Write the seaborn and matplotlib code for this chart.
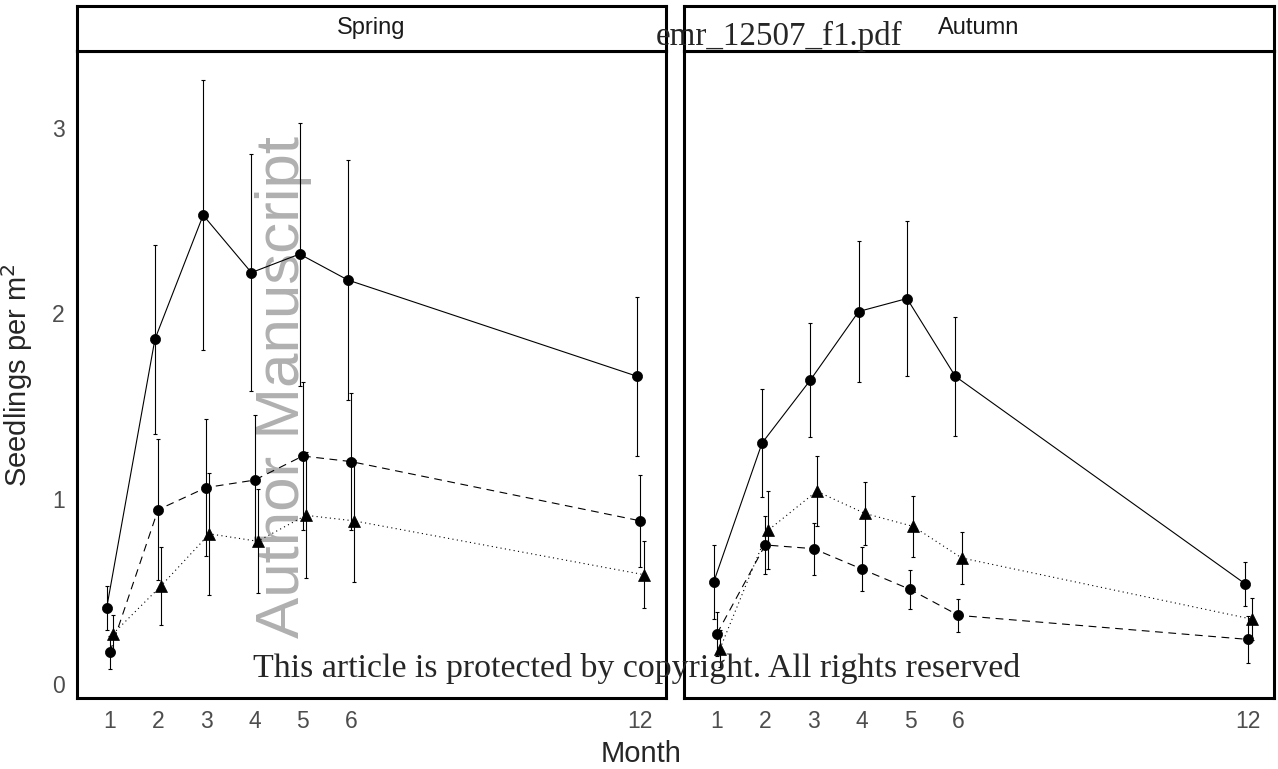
import matplotlib.pyplot as plt
import seaborn as sns
import pandas as pd

# values (mean and error half-width)
MONTHS = [1, 2, 3, 4, 5, 6, 12]
SEASONS = ["Spring", "Autumn"]
GROUPS = ["solid", "dashed", "dotted"]

spring_solid = [0.41, 1.86, 2.53, 2.22, 2.32, 2.18, 1.66]
spring_solid_err = [0.12, 0.51, 0.73, 0.64, 0.71, 0.65, 0.43]
spring_dashed = [0.17, 0.94, 1.06, 1.10, 1.23, 1.20, 0.88]
spring_dashed_err = [0.09, 0.38, 0.37, 0.35, 0.40, 0.37, 0.25]
spring_dotted = [0.27, 0.53, 0.81, 0.77, 0.91, 0.88, 0.59]
spring_dotted_err = [0.10, 0.21, 0.33, 0.28, 0.34, 0.33, 0.18]

autumn_solid = [0.55, 1.30, 1.64, 2.01, 2.08, 1.66, 0.54]
autumn_solid_err = [0.20, 0.29, 0.31, 0.38, 0.42, 0.32, 0.12]
autumn_dashed = [0.27, 0.75, 0.73, 0.62, 0.51, 0.37, 0.24]
autumn_dashed_err = [0.12, 0.155, 0.14, 0.12, 0.105, 0.09, 0.125]
autumn_dotted = [0.19, 0.83, 1.04, 0.92, 0.85, 0.68, 0.35]
autumn_dotted_err = [0.10, 0.21, 0.19, 0.17, 0.165, 0.14, 0.115]

Y_TICKS = [0, 1, 2, 3]

series = {
    "Spring": [("solid", spring_solid, spring_solid_err),
               ("dashed", spring_dashed, spring_dashed_err),
               ("dotted", spring_dotted, spring_dotted_err)],
    "Autumn": [("solid", autumn_solid, autumn_solid_err),
               ("dashed", autumn_dashed, autumn_dashed_err),
               ("dotted", autumn_dotted, autumn_dotted_err)],
}
rows = []
for season, lst in series.items():
    for grp, means, errs in lst:
        for m, y, e in zip(MONTHS, means, errs):
            rows.append({"season": season, "group": grp, "month": m, "mean": y, "err": e})
df = pd.DataFrame(rows)

# styling
DODGE = {"solid": -0.065, "dashed": 0.0, "dotted": 0.065}
MARKER = {"solid": "o", "dashed": "o", "dotted": "^"}
MSIZE = {"solid": 7.3, "dashed": 7.3, "dotted": 8.8}
LSTYLE = {"solid": "-", "dashed": (0, (7, 5)), "dotted": (0, (1, 3))}
GREY_TXT = "#4D4D4D"

sns.set_style("white")
plt.rcParams["font.family"] = ["Liberation Sans", "DejaVu Sans"]

W, H = 1278, 769
fig = plt.figure(figsize=(W / 100, H / 100), dpi=100)


def px_rect(x0, y0, x1, y1):
    return [x0 / W, 1 - y1 / H, (x1 - x0) / W, (y1 - y0) / H]


panels = {"Spring": (77, 666), "Autumn": (684, 1274)}
for i, season in enumerate(SEASONS):
    x0, x1 = panels[season]
    ax = fig.add_axes(px_rect(x0, 51, x1, 698))
    ax.set_facecolor("none")
    d = df[df["season"] == season].copy()
    d["x"] = d["month"] + d["group"].map(DODGE)
    for grp in GROUPS:
        g = d[d["group"] == grp]
        ax.errorbar(g["x"], g["mean"], yerr=g["err"], fmt="none", ecolor="black",
                    elinewidth=0.8, capsize=1.6, capthick=0.8, zorder=2)
        sns.lineplot(data=g, x="x", y="mean", ax=ax, color="black", linewidth=0.8,
                     linestyle=LSTYLE[grp], marker=MARKER[grp], markersize=MSIZE[grp],
                     markeredgecolor="black", markeredgewidth=0.5, errorbar=None,
                     legend=False, zorder=3)
    ax.set_xlim(0.32, 12.53)
    ax.set_ylim(-0.076, 3.416)
    ax.set_xticks(MONTHS)
    ax.set_xticklabels([str(m) for m in MONTHS])
    ax.set_yticks(Y_TICKS)
    if i == 0:
        ax.set_yticklabels([str(t) for t in Y_TICKS])
    else:
        ax.tick_params(axis="y", left=False, labelleft=False)
    ax.tick_params(axis="both", direction="out", length=5, width=1.1, color="#333333",
                   labelsize=16.5, labelcolor=GREY_TXT, pad=4)
    ax.set_xlabel("")
    ax.set_ylabel("")
    for sp in ax.spines.values():
        sp.set_visible(True)
        sp.set_linewidth(2.2)
        sp.set_color("black")

    strip = fig.add_axes(px_rect(x0, 6, x1, 51))
    strip.set_xticks([])
    strip.set_yticks([])
    for sp in strip.spines.values():
        sp.set_linewidth(2.2)
        sp.set_color("black")
    strip.text(0.5, 0.52, season, ha="center", va="center", fontsize=17,
               color="#1A1A1A", transform=strip.transAxes)

fig.text(641 / W, 1 - 754 / H, "Month", ha="center", va="center", fontsize=21)
fig.text(17 / W, 1 - 375 / H, "Seedlings per m$^2$", ha="center", va="center",
         rotation=90, fontsize=21)

# watermarks from the source pdf
fig.text(284 / W, 1 - 387 / H, "Author Manuscript", rotation=90, ha="center",
         va="center", fontsize=44.6, color="#B0B0B0", zorder=-1)
fig.text(656 / W, 1 - 45 / H, "emr_12507_f1.pdf", ha="left", va="baseline",
         fontsize=23.8, family=["Liberation Serif", "DejaVu Serif"], zorder=10)
fig.text(253 / W, 1 - 677 / H, "This article is protected by copyright. All rights reserved",
         ha="left", va="baseline", fontsize=24.4,
         family=["Liberation Serif", "DejaVu Serif"], zorder=10)

fig.savefig("out.png", dpi=100)
plt.close(fig)
